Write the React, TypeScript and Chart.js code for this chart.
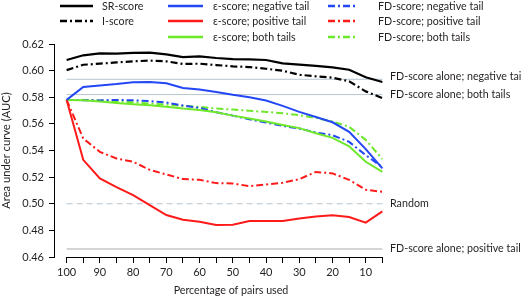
import React, { useEffect, useRef } from 'react';
import { Chart, registerables } from 'chart.js';

Chart.register(...registerables);

// ---------- data ----------
const pct = [100, 95, 90, 85, 80, 75, 70, 65, 60, 55, 50, 45, 40, 35, 30, 25, 20, 15, 10, 5];

const srScore = [0.608, 0.6115, 0.613, 0.6127, 0.6133, 0.6135, 0.6122, 0.6102, 0.6107, 0.6095, 0.6087, 0.6085, 0.608, 0.6055, 0.6045, 0.6035, 0.6025, 0.6007, 0.595, 0.5915];
const iScore = [0.6004, 0.6044, 0.6052, 0.6062, 0.607, 0.6075, 0.607, 0.605, 0.6052, 0.6042, 0.6032, 0.6027, 0.6014, 0.5999, 0.5969, 0.5957, 0.5947, 0.592, 0.5844, 0.5794];

const epsNeg = [0.578, 0.5877, 0.5889, 0.5899, 0.5912, 0.5915, 0.5905, 0.5869, 0.5858, 0.584, 0.5818, 0.58, 0.5775, 0.5735, 0.569, 0.5652, 0.5612, 0.554, 0.541, 0.5265];
const epsPos = [0.578, 0.533, 0.519, 0.5125, 0.5065, 0.499, 0.4915, 0.488, 0.4865, 0.484, 0.4842, 0.487, 0.487, 0.487, 0.489, 0.4905, 0.4913, 0.49, 0.4858, 0.4943];
const epsBoth = [0.578, 0.5777, 0.5768, 0.5757, 0.5748, 0.574, 0.5728, 0.5715, 0.5705, 0.5688, 0.5662, 0.564, 0.5618, 0.5592, 0.5568, 0.553, 0.5495, 0.5432, 0.5315, 0.524];

const fdNeg = [0.578, 0.5778, 0.5776, 0.578, 0.5777, 0.5771, 0.576, 0.5738, 0.572, 0.5688, 0.5662, 0.5635, 0.561, 0.5585, 0.5565, 0.5535, 0.5515, 0.5465, 0.5365, 0.5275];
const fdPos = [0.578, 0.549, 0.539, 0.534, 0.5315, 0.5255, 0.522, 0.5185, 0.518, 0.5155, 0.5152, 0.5132, 0.5145, 0.5157, 0.5185, 0.5239, 0.5228, 0.518, 0.5105, 0.509];
const fdBoth = [0.578, 0.5779, 0.5776, 0.5771, 0.5762, 0.5753, 0.5745, 0.5735, 0.5728, 0.5715, 0.5708, 0.5698, 0.569, 0.568, 0.5665, 0.5645, 0.5618, 0.5578, 0.548, 0.5335];

const refValues = [0.5935, 0.582, 0.5, 0.466];
const refLabels = ['FD-score alone; negative tail', 'FD-score alone; both tails', 'Random', 'FD-score alone; positive tail'];

const xTickValues = [100, 95, 90, 85, 80, 75, 70, 65, 60, 55, 50, 45, 40, 35, 30, 25, 20, 15, 10, 5];
const xTickLabelled = [100, 90, 80, 70, 60, 50, 40, 30, 20, 10];
const yTickValues = [0.46, 0.48, 0.5, 0.52, 0.54, 0.56, 0.58, 0.6, 0.62];

const xTitle = 'Percentage of pairs used';
const yTitle = 'Area under curve (AUC)';

// ---------- styles ----------
const FONT = 'Lato, "Open Sans", sans-serif';
const TEXT = '#231f20';
const BLUE = '#2347f5';
const RED = '#ff1a1a';
const GREEN = '#6ee82a';
const DASHDOT = [7, 3, 2, 3];
const LABEL_SIZE = 10.7;

const toPts = (vals: number[]) => vals.map((v, i) => ({ x: pct[i], y: v }));
const refPts = (v: number) => [{ x: pct[0], y: v }, { x: pct[pct.length - 1], y: v }];

// legend placement: [column, row]
const legendCols = [{ lx: 60, lw: 33, tx: 102 }, { lx: 168, lw: 35, tx: 213 }, { lx: 328, lw: 30, tx: 378 }];
const legendRows = [6, 21, 37];

const decorPlugin = {
  id: 'decor',
  afterDraw(chart: any) {
    const ctx = chart.ctx as CanvasRenderingContext2D;
    const xs = chart.scales.x;
    const ys = chart.scales.y;
    const area = chart.chartArea;
    ctx.save();
    // detached x axis line
    ctx.strokeStyle = '#000';
    ctx.lineWidth = 1;
    ctx.setLineDash([]);
    ctx.beginPath();
    const yb = Math.round(area.bottom) + 0.5;
    ctx.moveTo(xs.getPixelForValue(xTickValues[0]), yb);
    ctx.lineTo(xs.getPixelForValue(xTickValues[xTickValues.length - 1]), yb);
    ctx.stroke();

    // legend
    ctx.font = `${LABEL_SIZE}px ${FONT}`;
    ctx.textBaseline = 'middle';
    ctx.textAlign = 'left';
    chart.data.datasets.forEach((ds: any) => {
      if (!ds.legendPos) return;
      const [c, r] = ds.legendPos;
      const col = legendCols[c];
      const y = legendRows[r];
      ctx.strokeStyle = ds.borderColor;
      ctx.lineWidth = 2.5;
      ctx.setLineDash(ds.borderDash || []);
      ctx.beginPath();
      ctx.moveTo(col.lx, y);
      ctx.lineTo(col.lx + col.lw, y);
      ctx.stroke();
      ctx.setLineDash([]);
      ctx.fillStyle = TEXT;
      ctx.fillText(ds.label, col.tx, y + 0.5);
    });

    // reference line labels
    const dy = [-2.5, 0, 0, 0];
    refValues.forEach((v, i) => {
      ctx.fillStyle = TEXT;
      ctx.fillText(refLabels[i], area.right - 5, ys.getPixelForValue(v) + dy[i]);
    });

    // x axis title
    ctx.textAlign = 'center';
    ctx.fillText(xTitle, 231, 291);
    ctx.restore();
  },
};

export default function App() {
  const ref = useRef<HTMLCanvasElement>(null);
  useEffect(() => {
    if (!ref.current) return;
    const line = (label: string, vals: number[], color: string, dash: number[] | undefined, legendPos: number[], w = 2) => ({
      label,
      data: toPts(vals),
      borderColor: color,
      borderWidth: w,
      borderDash: dash,
      pointRadius: 0,
      tension: 0,
      fill: false,
      legendPos,
    });
    const refLine = (v: number, color: string, dash?: number[]) => ({
      label: '',
      data: refPts(v),
      borderColor: color,
      borderWidth: 1,
      borderDash: dash,
      pointRadius: 0,
      tension: 0,
      fill: false,
    });
    const chart = new Chart(ref.current, {
      type: 'line',
      data: {
        datasets: [
          line('SR-score', srScore, '#000', undefined, [0, 0], 2.2),
          line('I-score', iScore, '#000', DASHDOT, [0, 1], 2.2),
          line('ε-score; negative tail', epsNeg, BLUE, undefined, [1, 0]),
          line('ε-score; positive tail', epsPos, RED, undefined, [1, 1]),
          line('ε-score; both tails', epsBoth, GREEN, undefined, [1, 2]),
          line('FD-score; negative tail', fdNeg, BLUE, DASHDOT, [2, 0]),
          line('FD-score; positive tail', fdPos, RED, DASHDOT, [2, 1]),
          line('FD-score; both tails', fdBoth, GREEN, DASHDOT, [2, 2]),
          refLine(refValues[0], '#b7c5cd'),
          refLine(refValues[1], '#b7c5cd'),
          refLine(refValues[2], '#b7c5cd', [6, 4]),
          refLine(refValues[3], '#aaaaaa'),
        ] as any,
      },
      options: {
        animation: false,
        responsive: true,
        maintainAspectRatio: false,
        layout: { padding: { top: 44, right: 127, left: 0, bottom: 0 } },
        plugins: { legend: { display: false }, tooltip: { enabled: false } },
        scales: {
          x: {
            type: 'linear',
            reverse: true,
            min: 1.2,
            max: 103.8,
            afterBuildTicks: (s: any) => { s.ticks = xTickValues.map((v) => ({ value: v })); },
            afterFit: (s: any) => { s.height = 42; },
            border: { display: false },
            grid: { display: true, drawOnChartArea: false, drawTicks: true, tickLength: 6, color: '#000', lineWidth: 1 },
            ticks: {
              autoSkip: false,
              maxRotation: 0,
              padding: 3,
              color: TEXT,
              font: { family: FONT, size: 11 },
              callback: (v: any) => (xTickLabelled.includes(Number(v)) ? String(v) : ''),
            },
            title: { display: false },
          },
          y: {
            type: 'linear',
            min: 0.46,
            max: 0.62,
            afterBuildTicks: (s: any) => { s.ticks = yTickValues.map((v) => ({ value: v })); },
            afterFit: (s: any) => { s.width = 54; },
            border: { display: true, color: '#000', width: 1 },
            grid: { display: true, drawOnChartArea: false, drawTicks: true, tickLength: 5, color: '#000', lineWidth: 1 },
            ticks: {
              padding: 5,
              color: TEXT,
              font: { family: FONT, size: 11 },
              callback: (v: any) => Number(v).toFixed(2),
            },
            title: { display: true, text: yTitle, color: TEXT, font: { family: FONT, size: 11.2 }, padding: { top: 0, bottom: 0 } },
          },
        },
      },
      plugins: [decorPlugin],
    } as any);
    return () => chart.destroy();
  }, []);
  return (
    <div style={{ position: 'fixed', left: 0, top: 0, width: 522, height: 299, background: '#fff' }}>
      <canvas ref={ref} />
    </div>
  );
}
